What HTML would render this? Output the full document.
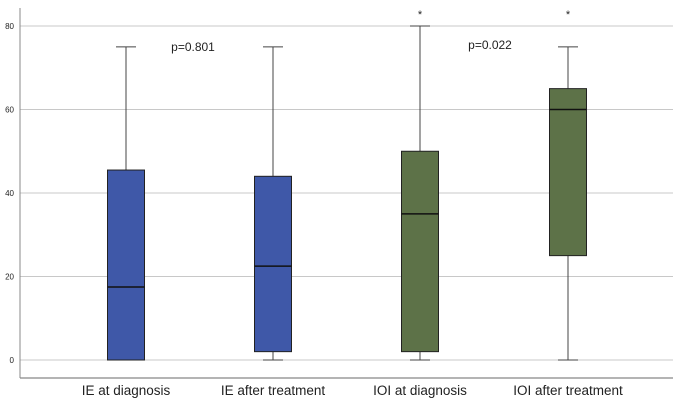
<!DOCTYPE html>
<html><head><meta charset="utf-8"><style>
body{margin:0;background:#fff;}
svg{display:block;font-family:"Liberation Sans",sans-serif;}
</style></head><body>
<svg id="chart" width="685" height="406"></svg>
<script>
const categories=["IE at diagnosis","IE after treatment","IOI at diagnosis","IOI after treatment"];
const mins=[0,0,0,0];
const q1s=[0,2,2,25];
const medians=[17.5,22.5,35,60];
const q3s=[45.5,44,50,65];
const maxs=[75,75,80,75];
const colors=["#3f58a8","#3f58a8","#5d7248","#5d7248"];
const yTicks=[0,20,40,60,80];
const stars=[false,false,true,true];
const pLabels=["p=0.801","p=0.022"];
const pValuesY=[75,75.5];

const NS="http://www.w3.org/2000/svg";
const svg=document.getElementById('chart');
const y=v=>360-v*(334/80);
const xc=[126,273,420,568];
const x=i=>xc[i];
function el(t,a,p){const e=document.createElementNS(NS,t);for(const k in a)e.setAttribute(k,a[k]);(p||svg).appendChild(e);return e;}

yTicks.forEach(t=>{
  const g=el('line',{x1:20,x2:673,y1:y(t),y2:y(t),stroke:'#c8c8c8','stroke-width':1});
  
  
  const l=el('text',{x:14,y:y(t)+3,'font-size':8,'text-anchor':'end',fill:'#222'});
  l.textContent=t;
  
  
});
const ya=el('line',{x1:20,x2:20,y1:8,y2:378,stroke:'#888','stroke-width':1});


const xa=el('line',{x1:20,x2:673,y1:378,y2:378,stroke:'#888','stroke-width':1.2});



categories.forEach((c,i)=>{
  const cx=x(i),w=37;
  const wl=el('line',{x1:cx,x2:cx,y1:y(maxs[i]),y2:y(mins[i]),stroke:'#444','stroke-width':1});
  
  
  [maxs[i],mins[i]].forEach((v,k)=>{
    if(k===1&&mins[i]===q1s[i])return;
    const cap=el('line',{x1:cx-10,x2:cx+10,y1:y(v),y2:y(v),stroke:'#444','stroke-width':1});
    
    
  });
  const b=el('rect',{x:cx-w/2,y:y(q3s[i]),width:w,height:y(q1s[i])-y(q3s[i]),fill:colors[i],stroke:'#222','stroke-width':1});
  
  
  const m=el('line',{x1:cx-w/2,x2:cx+w/2,y1:y(medians[i]),y2:y(medians[i]),stroke:'#111','stroke-width':1.5});
  
  
  const t=el('text',{x:cx,y:395,'font-size':13.5,'text-anchor':'middle',fill:'#222'});
  t.textContent=c;
  
  
  if(stars[i]){
    const s=el('text',{x:cx,y:18,'font-size':11,'text-anchor':'middle',fill:'#222'});
    s.textContent='*';
    
    
  }
});
const pX=[193,490];
pLabels.forEach((p,i)=>{
  const t=el('text',{x:pX[i],y:y(pValuesY[i])+4,'font-size':12,'text-anchor':'middle',fill:'#222'});
  t.textContent=p;
  
  
});
</script>
</body></html>
